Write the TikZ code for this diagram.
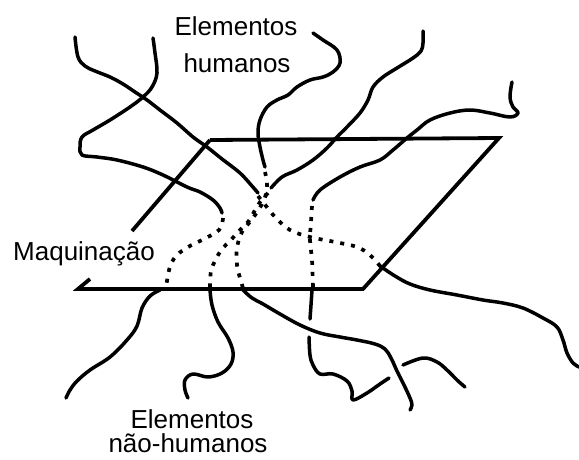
\documentclass[tikz,border=0pt]{standalone}
\usepackage{fontspec}
\setmainfont{Liberation Sans}
\begin{document}
\begin{tikzpicture}[x=1pt,y=-1pt,
  strand/.style={line width=3.5pt,line cap=round,line join=round},
  hidden/.style={line width=3.7pt,dash pattern=on 4pt off 7pt},
  plane/.style={line width=3.8pt,line cap=butt,line join=miter},
  lbl/.style={font=\fontsize{26}{30}\selectfont,inner sep=0pt,anchor=base}]
\useasboundingbox (0,0) rectangle (579,459);
% plane
\draw[plane] (210,140) -- (499,138) -- (363,289) -- (78,289) -- (90,279);
\draw[plane] (210,140) -- (132,231);
% curve A
\draw[strand] plot[smooth,tension=0.6] coordinates {(75,37) (78,57) (85,66) (95,71) (110,77) (123,84) (135,92) (147,100) (160,110) (177,123) (193,137) (207,147) (222,159) (240,173) (252,186) (258,193)};
\draw[hidden] plot[smooth,tension=0.6] coordinates {(258,196) (266,206) (276,218) (290,230) (310,237) (335,242) (357,247) (370,255) (380,266)};
\draw[strand] plot[smooth,tension=0.6] coordinates {(380,266) (395,276) (410,284) (430,290) (457,295) (483,300) (503,303) (523,308) (543,318) (557,327) (563,340) (567,353) (573,363) (579,367)};
% curve B
\draw[strand] plot[smooth,tension=0.6] coordinates {(153,38) (155,53) (157,73) (152,87) (143,97) (130,107) (110,120) (93,130) (82,137) (80,147) (82,155) (97,157) (117,160) (143,167) (163,175) (187,187) (200,192) (213,200) (220,208) (222,213)};
\draw[hidden] plot[smooth,tension=0.6] coordinates {(223,218) (219,230) (202,240) (188,247) (177,255) (171,264) (168,275) (166,288)};
\draw[strand] plot[smooth,tension=0.6] coordinates {(160,290) (150,296) (142,308) (137,326) (127,340) (110,357) (90,370) (77,381) (70,390) (66,398)};
% curve C
\draw[strand] plot[smooth,tension=0.6] coordinates {(313,33) (323,40) (337,50) (340,63) (333,72) (323,77) (310,80) (297,87) (288,95) (277,100) (267,107) (260,120) (258,133) (260,147) (263,160) (265,167)};
\draw[hidden] plot[smooth,tension=0.6] coordinates {(265,172) (267,185) (264,200) (253,218) (242,232) (237,248) (237,265) (240,278) (243,288)};
\draw[strand] plot[smooth,tension=0.6] coordinates {(243,290) (252,298) (263,304) (280,314) (300,325) (320,333) (340,337) (357,340) (375,344) (385,349) (391,358) (397,371) (404,385) (410,398) (412,405) (410,410)};
% curve D
\draw[strand] plot[smooth,tension=0.6] coordinates {(423,31) (423,43) (421,51) (413,58) (397,68) (383,77) (373,87) (368,100) (360,113) (347,127) (337,137) (327,148) (313,160) (297,170) (282,177) (271,188)};
\draw[hidden] plot[smooth,tension=0.6] coordinates {(268,193) (260,202) (254,212) (248,222) (238,232) (230,241) (222,249) (216,259) (211,271) (210,288)};
\draw[strand] plot[smooth,tension=0.6] coordinates {(210,290) (212,305) (218,322) (228,338) (233,352) (231,364) (222,373) (208,377) (193,374) (185,380) (185,390) (188,398)};
% curve E
\draw[strand] plot[smooth,tension=0.6] coordinates {(512,82) (510,97) (513,107) (518,113) (510,117) (490,113) (470,110) (450,113) (430,120) (417,130) (407,138) (393,150) (380,160) (360,167) (340,177) (320,190) (313,200)};
\draw[hidden] plot[smooth,tension=0.6] coordinates {(312,206) (311,222) (310,240) (312,260) (313,288)};
\draw[strand] plot[smooth,tension=0.6] coordinates {(312,290) (311,305) (310,319)};
\draw[strand] plot[smooth,tension=0.6] coordinates {(309,337) (310,355) (313,365) (320,374) (333,374) (347,381) (352,391) (353,400) (367,393) (380,384) (389,378)};
\draw[strand] plot[smooth,tension=0.6] coordinates {(403,365) (423,358) (437,362) (447,370) (457,380) (465,387)};
% labels
\node[lbl] (th1) at (236,35) {Elementos};
\node[lbl] (th2) at (237,72) {humanos};
\node[lbl,anchor=base west] (mq) at (13,260) {Maquinação};
\node[lbl] (bh1) at (192,428) {Elementos};
\node[lbl] (bh2) at (188,452) {não-humanos};
\end{tikzpicture}
\end{document}
